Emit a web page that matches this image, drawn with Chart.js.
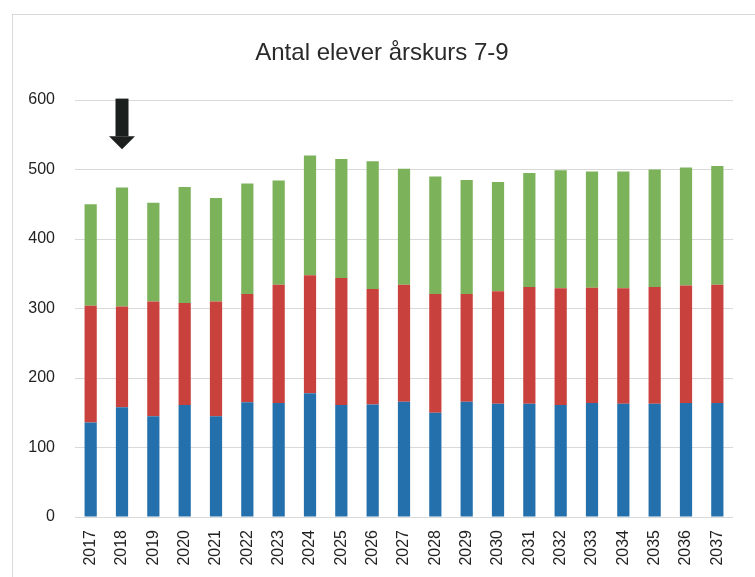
<!DOCTYPE html>
<html>
<head>
<meta charset="utf-8">
<script src="https://cdn.jsdelivr.net/npm/chart.js@4"></script>
<style>
     body { margin: 0; background: #fff; }
     #wrap { position: relative; width: 755px; height: 577px; overflow: hidden; }
     #frame { position: absolute; left: 12px; top: 14px; width: 800px; height: 620px; border: 1px solid #d9d9d9; }
     #elevChart { position: absolute; left: 0; top: 0; }
     #title {
          position: absolute; left: 182px; width: 400px; top: 37px;
          text-align: center; font: 24px 'Liberation Sans', sans-serif; line-height: 30px; color: #2a2a2a;
     }
</style>
</head>
<body>
<div id="wrap">
     <div id="frame"></div>
     <canvas id="elevChart" width="755" height="577"></canvas>
     <div id="title">Antal elever årskurs 7-9</div>
</div>
<script>
const years = ['2017', '2018', '2019', '2020', '2021', '2022', '2023', '2024', '2025', '2026', '2027',
     '2028', '2029', '2030', '2031', '2032', '2033', '2034', '2035', '2036', '2037'];

// elever per årskurs, läst ur bilden
const ak7 = [136, 158, 145, 161, 145, 165, 164, 178, 161, 162, 166, 150, 166, 163, 163, 161, 164, 163, 163, 164, 164];
const ak8 = [168, 145, 165, 147, 165, 156, 170, 170, 183, 166, 168, 171, 155, 162, 168, 168, 166, 166, 168, 169, 170];
const ak9 = [146, 171, 142, 167, 149, 159, 150, 172, 171, 184, 167, 169, 164, 157, 164, 170, 167, 168, 169, 170, 171];

const yTicks = [0, 100, 200, 300, 400, 500, 600];

// pilen ovanför 2018
const arrowYear = '2018';
const arrowFrom = 602;
const arrowTo = 529;

const arrowPlugin = {
     id: 'arrow',
     afterDatasetsDraw(chart) {
          const ctx = chart.ctx;
          const x = chart.scales.x.getPixelForValue(years.indexOf(arrowYear));
          const top = chart.scales.y.getPixelForValue(arrowFrom);
          const tip = chart.scales.y.getPixelForValue(arrowTo);
          ctx.save();
          ctx.fillStyle = '#1b1f1d';
          ctx.fillRect(x - 6.5, top, 13, tip - top - 13);
          ctx.beginPath();
          ctx.moveTo(x - 13, tip - 13);
          ctx.lineTo(x + 13, tip - 13);
          ctx.lineTo(x, tip);
          ctx.closePath();
          ctx.fill();
          ctx.restore();
     }
};

function makeSet(label, data, color) {
     return {
          label: label,
          data: data,
          backgroundColor: color,
          borderWidth: 0,
          barPercentage: 0.39,
          categoryPercentage: 1
     };
}

const ctx = document.getElementById('elevChart').getContext('2d');
new Chart(ctx, {
     type: 'bar',
     data: {
          labels: years,
          datasets: [
               makeSet('Åk 7', ak7, '#2470ad'),
               makeSet('Åk 8', ak8, '#c9413c'),
               makeSet('Åk 9', ak9, '#7bb25a')
          ]
     },
     plugins: [arrowPlugin],
     options: {
          responsive: false,
          animation: false,
          layout: { padding: { left: 0, right: 22, top: 100, bottom: 0 } },
          plugins: {
               legend: { display: false },
               tooltip: { enabled: false },
               title: { display: false }
          },
          scales: {
               x: {
                    stacked: true,
                    grid: { display: false },
                    border: { display: false },
                    ticks: {
                         color: '#222',
                         font: { family: 'Liberation Sans', size: 16 },
                         minRotation: 90,
                         maxRotation: 90,
                         padding: 5,
                         autoSkip: false
                    },
                    afterFit(scale) { scale.height = 60; }
               },
               y: {
                    stacked: true,
                    min: 0,
                    max: 600,
                    afterBuildTicks(scale) { scale.ticks = yTicks.map(v => ({ value: v })); },
                    grid: { color: '#d9d9d9', drawTicks: false },
                    border: { display: false },
                    ticks: {
                         color: '#222',
                         font: { family: 'Liberation Sans', size: 16 },
                         padding: 20
                    },
                    afterFit(scale) { scale.width = 75; }
               }
          }
     }
});
</script>
</body>
</html>
